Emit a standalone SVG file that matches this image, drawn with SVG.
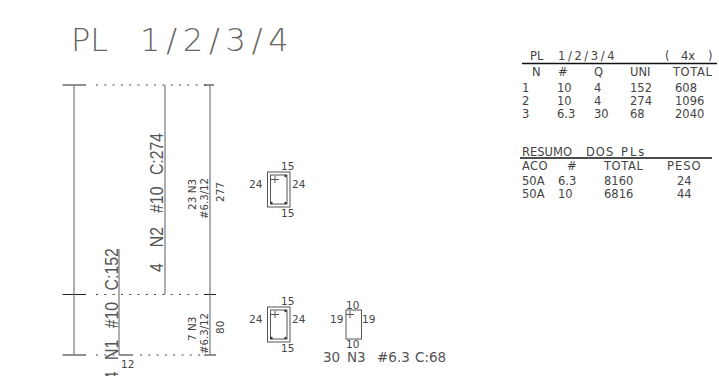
<svg xmlns="http://www.w3.org/2000/svg" width="719" height="376" viewBox="0 0 719 376">
<style>
text{font-family:"DejaVu Sans",sans-serif;fill:#444;stroke:none}
.l{stroke:#777;stroke-width:1.2;fill:none}
.k{stroke:#222;stroke-width:1;fill:none}
.d{stroke:#444;stroke-width:1.2;fill:none;stroke-dasharray:2 6.3}
.b{stroke:#111;stroke-width:1.3;fill:none}
.s{stroke:#555;stroke-width:1;fill:none}
.t{font-size:11.500px}
.m{font-size:10.500px}
.r{font-family:"Liberation Sans",sans-serif;font-size:18px;fill:#555}
</style>
<rect width="719" height="376" fill="#fff"/>
<text y="51" font-size="32" style="fill:#666;font-weight:200"><tspan x="71">PL</tspan> <tspan x="140" letter-spacing="5.800">1/2/3/4</tspan></text>
<g id="connectors">
<path class="k" d="M62.500 85H86M62.500 294.500H86M62.500 355H86M204 294.500H216M204 355H216M119 355H133M204 85H214"/>
<path class="d" d="M96 85H208M96 294.500H204M96 355H119M140 355H204"/>
<path class="l" d="M74 85V355M165 85V294.500M210 85V355M119 249V355"/>
</g>
<g id="long-labels">
<text class="r" transform="translate(163 0) rotate(-90) scale(.88 1)"><tspan x="-309">4</tspan> <tspan x="-281">N2</tspan> <tspan x="-242">#10</tspan> <tspan x="-199">C:274</tspan></text>
<text class="r" transform="translate(118 0) rotate(-90) scale(.88 1)"><tspan x="-432">4</tspan> <tspan x="-409">N1</tspan> <tspan x="-373">#10</tspan> <tspan x="-330">C:152</tspan></text>
<text transform="translate(196 210) rotate(-90)" class="m">23 N3</text>
<text transform="translate(208 219) rotate(-90)" class="m" textLength="41" lengthAdjust="spacingAndGlyphs">#6.3/12</text>
<text transform="translate(224 202) rotate(-90)" class="m">277</text>
<text transform="translate(196 341) rotate(-90)" class="m">7 N3</text>
<text transform="translate(208 354) rotate(-90)" class="m" textLength="41" lengthAdjust="spacingAndGlyphs">#6.3/12</text>
<text transform="translate(224 334) rotate(-90)" class="m">80</text>
<text x="121" y="368" class="m">12</text>
</g>
<g id="section-a">
<rect class="s" x="267.500" y="172" width="22.500" height="35"/>
<rect class="s" x="270.500" y="175" width="16.500" height="29"/>
<path class="s" d="M275 176V183M271 179.500H279"/>
<circle cx="271.500" cy="203" r="1.200" fill="#333"/><circle cx="285.500" cy="203" r="1.200" fill="#333"/><circle cx="285.500" cy="176" r="1.200" fill="#333"/>
<text x="281" y="170" class="m">15</text><text x="281" y="217" class="m">15</text><text x="249" y="188" class="m">24</text><text x="292" y="188" class="m">24</text>
</g>
<g id="section-b">
<rect class="s" x="267.500" y="307" width="22.500" height="35"/>
<rect class="s" x="270.500" y="310" width="16.500" height="29"/>
<path class="s" d="M275 311V318M271 314.500H279"/>
<circle cx="271.500" cy="338" r="1.200" fill="#333"/><circle cx="285.500" cy="338" r="1.200" fill="#333"/><circle cx="285.500" cy="311" r="1.200" fill="#333"/>
<text x="281" y="305" class="m">15</text><text x="281" y="352" class="m">15</text><text x="249" y="323" class="m">24</text><text x="292" y="323" class="m">24</text>
</g>
<g id="section-c">
<rect class="s" x="346" y="310" width="15.500" height="29"/>
<path class="s" d="M350 311V318M346 314.500H354"/>
<text x="346" y="309" class="m">10</text><text x="346" y="348" class="m">10</text><text x="330" y="323" class="m">19</text><text x="362" y="323" class="m">19</text>
<text y="362" font-size="13.500" style="fill:#555"><tspan x="323">30</tspan> <tspan x="347">N3</tspan> <tspan x="377">#6.3</tspan> <tspan x="415">C:68</tspan></text>
</g>
<g id="table-pl">
<path class="b" d="M522 63.500H717"/>
<text y="60" class="t"><tspan x="530">PL</tspan> <tspan x="558" letter-spacing="2.600">1/2/3/4</tspan></text><text y="60" class="t" x="665"><tspan>(</tspan> <tspan x="681">4x</tspan> <tspan x="708">)</tspan></text>
<text x="532" y="76" class="t">N</text><text x="558" y="76" class="t">#</text><text x="594" y="76" class="t">Q</text><text x="630" y="76" class="t">UNI</text><text x="673" y="76" class="t" letter-spacing=".6">TOTAL</text>
<text x="522" y="92" class="t">1</text><text x="557" y="92" class="t">10</text><text x="594" y="92" class="t">4</text><text x="630" y="92" class="t">152</text><text x="675" y="92" class="t">608</text>
<text x="522" y="105" class="t">2</text><text x="557" y="105" class="t">10</text><text x="594" y="105" class="t">4</text><text x="630" y="105" class="t">274</text><text x="675" y="105" class="t">1096</text>
<text x="522" y="118" class="t">3</text><text x="557" y="118" class="t">6.3</text><text x="594" y="118" class="t">30</text><text x="630" y="118" class="t">68</text><text x="675" y="118" class="t">2040</text>
</g>
<g id="table-resumo">
<path class="b" d="M520 158H712"/>
<text y="156" class="t"><tspan x="522">RESUMO</tspan> <tspan x="586" letter-spacing="1">DOS</tspan> <tspan x="621" letter-spacing="2">PLs</tspan></text>
<text x="522" y="170" class="t" letter-spacing=".4">ACO</text><text x="567" y="170" class="t">#</text><text x="604" y="170" class="t" letter-spacing=".6">TOTAL</text><text x="667" y="170" class="t" letter-spacing="1">PESO</text>
<text x="522" y="185" class="t">50A</text><text x="558" y="185" class="t">6.3</text><text x="604" y="185" class="t">8160</text><text x="677" y="185" class="t">24</text>
<text x="522" y="198" class="t">50A</text><text x="558" y="198" class="t">10</text><text x="604" y="198" class="t">6816</text><text x="677" y="198" class="t">44</text>
</g>
</svg>
